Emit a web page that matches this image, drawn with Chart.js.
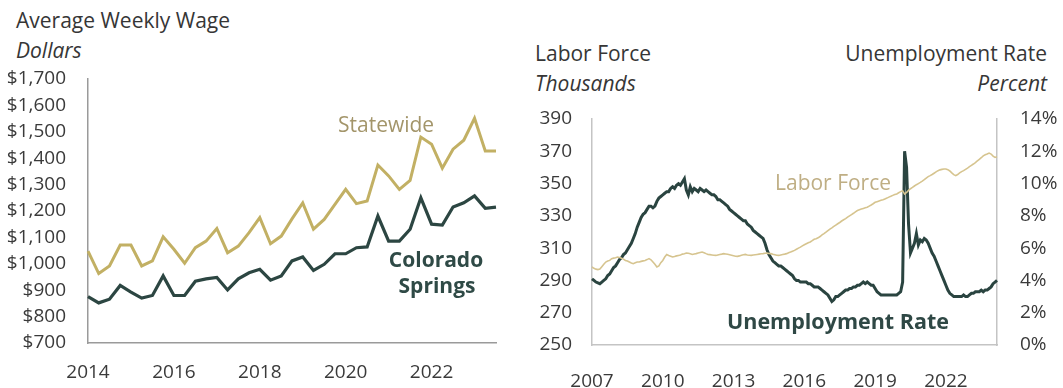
<!DOCTYPE html>
<html>
<head>
<meta charset="utf-8">
<script src="https://cdn.jsdelivr.net/npm/chart.js@4.4.1/dist/chart.umd.min.js"></script>
<style>
  html, body { margin: 0; padding: 0; background: #fff; }
  body { width: 1063px; height: 388px; position: relative; overflow: hidden;
         font-family: "Open Sans", "Noto Sans", sans-serif; color: #363636; }
  .t { position: absolute; white-space: nowrap; line-height: 1; font-size: 21px; }
  .it { font-style: italic; }
  .box { position: absolute; }
  .mid { transform: translateX(-50%); }
</style>
</head>
<body>

<!-- Left panel headings -->
<div class="t" style="left:16px;top:10px;">Average Weekly Wage</div>
<div class="t it" style="left:16px;top:40px;">Dollars</div>

<!-- Right panel headings -->
<div class="t" style="left:535px;top:43px;">Labor Force</div>
<div class="t it" style="left:535px;top:73px;">Thousands</div>
<div class="t" style="right:16px;top:43px;">Unemployment Rate</div>
<div class="t it" style="right:16px;top:73px;">Percent</div>

<div class="box" style="left:0;top:60px;width:520px;height:328px;"><canvas id="wage" width="520" height="328"></canvas></div>
<div class="box" style="left:530px;top:100px;width:533px;height:288px;"><canvas id="labor" width="533" height="288"></canvas></div>

<!-- Series labels -->
<div class="t" style="left:338px;top:114px;color:#a3956a;">Statewide</div>
<div class="t mid" style="left:436px;top:249px;font-weight:700;color:#2f4a46;">Colorado</div>
<div class="t mid" style="left:437px;top:275px;font-weight:700;color:#2f4a46;">Springs</div>
<div class="t" style="left:775px;top:172px;color:#bfae84;">Labor Force</div>
<div class="t" style="left:727px;top:310px;font-size:21.5px;font-weight:700;color:#2f4845;">Unemployment Rate</div>

<script>
// ---------- Average weekly wage, quarterly 2014 Q1 - 2023 Q3 ----------
const wageStartYear = 2014;
const wageQuarterCount = 39;
const wageYearTicks = ['2014', '2016', '2018', '2020', '2022'];
const statewideWage = [
  1048, 963, 992, 1071,
  1071, 992, 1011, 1102,
  1055, 1002, 1061, 1086,
  1134, 1042, 1067, 1118,
  1175, 1076, 1105, 1170,
  1231, 1131, 1168, 1225,
  1282, 1228, 1238, 1374,
  1333, 1282, 1316, 1480,
  1453, 1362, 1434, 1468,
  1551, 1427, 1427
];
const springsWage = [
  876, 852, 866, 918,
  893, 870, 880, 954,
  880, 880, 934, 943,
  948, 901, 943, 966,
  979, 938, 954, 1011,
  1026, 975, 998, 1038,
  1038, 1061, 1064, 1181,
  1086, 1086, 1131, 1250,
  1150, 1147, 1215, 1231,
  1257, 1210, 1215
];

// ---------- Labor force and unemployment rate, monthly Jan 2007 - Mar 2024 ----------
const laborStartYear = 2007;
const laborMonthCount = 207;
const laborYearTicks = ['2007', '2010', '2013', '2016', '2019', '2022'];
const laborForce = [
  298.3, 297.5, 297.0, 296.7, 297.0, 298.5, 300.0, 301.4, 302.0, 302.4, 303.5, 303.8, // 2007
  304.0, 304.5, 304.2, 303.8, 303.2, 302.4, 302.0, 301.4, 300.8, 300.4, 300.9, 301.4, // 2008
  301.4, 301.8, 302.1, 302.4, 302.9, 303.5, 302.8, 301.4, 300.0, 298.3, 299.0, 301.0, // 2009
  302.4, 304.5, 306.1, 305.5, 305.0, 304.5, 304.8, 305.2, 305.5, 305.8, 306.3, 306.5, // 2010
  307.0, 306.8, 306.5, 306.1, 306.4, 306.6, 307.0, 307.3, 307.6, 307.2, 306.6, 306.1, // 2011
  306.0, 305.8, 305.6, 305.5, 305.8, 306.1, 306.3, 306.6, 306.4, 306.2, 305.9, 305.6, // 2012
  305.3, 305.0, 304.9, 305.2, 305.6, 305.9, 306.1, 305.8, 305.6, 305.5, 305.7, 305.9, // 2013
  306.1, 306.3, 306.5, 306.6, 306.8, 306.9, 306.7, 306.6, 306.2, 305.9, 305.6, 305.5, // 2014
  305.8, 306.1, 306.3, 306.6, 307.2, 307.6, 308.1, 308.6, 309.3, 310.0, 310.6, 311.4, // 2015
  312.1, 312.7, 313.3, 313.8, 314.6, 315.5, 315.8, 316.4, 317.2, 318.2, 319.0, 319.9, // 2016
  320.9, 321.8, 322.6, 323.5, 324.3, 325.1, 325.9, 326.8, 327.6, 328.3, 329.2, 330.0, // 2017
  330.8, 331.6, 332.5, 333.3, 333.8, 334.2, 334.6, 335.0, 335.3, 336.0, 336.7, 337.5, // 2018
  338.4, 338.8, 339.2, 339.6, 340.0, 340.5, 341.0, 341.6, 342.1, 342.7, 343.2, 343.6, // 2019
  344.3, 345.0, 345.6, 343.5, 344.5, 345.8, 346.8, 347.6, 348.5, 349.3, 350.0, 350.7, // 2020
  351.5, 352.4, 353.4, 354.3, 354.9, 355.6, 356.4, 357.2, 358.0, 358.5, 358.8, 359.0, // 2021
  359.0, 358.6, 357.8, 356.6, 355.5, 354.9, 355.6, 356.6, 357.4, 358.0, 358.8, 359.6, // 2022
  360.5, 361.3, 362.1, 363.0, 364.0, 365.0, 366.0, 367.2, 367.8, 368.3, 368.9, 368.3, // 2023
  367.0, 366.2, 366.6                                                                  // 2024
];
const unemploymentRate = [
  4.1, 4.0, 3.9, 3.85, 3.8, 3.9, 4.0, 4.1, 4.3, 4.4, 4.6, 4.8,   // 2007
  4.9, 5.1, 5.3, 5.4, 5.6, 5.7, 5.9, 6.1, 6.3, 6.6, 6.9, 7.3,    // 2008
  7.6, 7.9, 8.1, 8.2, 8.4, 8.6, 8.6, 8.5, 8.6, 8.9, 9.1, 9.2,    // 2009
  9.3, 9.4, 9.5, 9.5, 9.7, 9.8, 9.7, 9.9, 10.0, 9.9, 10.1, 10.3, // 2010
  9.6, 9.3, 9.8, 9.5, 9.7, 9.6, 9.5, 9.7, 9.6, 9.5, 9.6, 9.5,    // 2011
  9.4, 9.3, 9.3, 9.2, 9.0, 9.0, 8.9, 8.8, 8.7, 8.6, 8.4, 8.3,    // 2012
  8.2, 8.1, 8.0, 7.9, 7.8, 7.7, 7.7, 7.5, 7.4, 7.3, 7.1, 7.0,    // 2013
  6.9, 6.8, 6.7, 6.6, 6.3, 5.9, 5.6, 5.4, 5.2, 5.1, 5.0, 4.9,    // 2014
  4.9, 4.8, 4.7, 4.6, 4.5, 4.4, 4.3, 4.1, 4.0, 4.0, 3.9, 3.9,    // 2015
  3.9, 3.9, 3.8, 3.8, 3.7, 3.6, 3.6, 3.6, 3.5, 3.4, 3.3, 3.2,    // 2016
  3.1, 2.9, 2.7, 2.8, 3.0, 3.0, 3.1, 3.2, 3.3, 3.4, 3.4, 3.5,    // 2017
  3.5, 3.6, 3.6, 3.7, 3.7, 3.8, 3.9, 3.8, 3.9, 3.8, 3.7, 3.7,    // 2018
  3.5, 3.3, 3.2, 3.1, 3.1, 3.1, 3.1, 3.1, 3.1, 3.1, 3.1, 3.1,    // 2019
  3.2, 3.3, 3.9, 12.0, 11.0, 7.5, 5.7, 6.0, 6.3, 6.9, 6.2, 6.5,  // 2020
  6.4, 6.6, 6.5, 6.3, 6.0, 5.7, 5.5, 5.2, 4.9, 4.6, 4.3, 4.0,    // 2021
  3.7, 3.4, 3.2, 3.1, 3.0, 3.0, 3.0, 3.0, 3.0, 3.1, 3.0, 3.0,    // 2022
  3.1, 3.2, 3.2, 3.3, 3.3, 3.3, 3.4, 3.3, 3.4, 3.4, 3.5, 3.6,    // 2023
  3.8, 3.9, 4.0                                                   // 2024
];

// Period labels for the category axes
const quarterLabels = [];
for (let i = 0; i < wageQuarterCount; i++) {
  quarterLabels.push((wageStartYear + Math.floor(i / 4)) + ' Q' + (i % 4 + 1));
}
const monthLabels = [];
for (let i = 0; i < laborMonthCount; i++) {
  const m = i % 12 + 1;
  monthLabels.push((laborStartYear + Math.floor(i / 12)) + '-' + (m < 10 ? '0' + m : m));
}

const FONT = '"Open Sans", "Noto Sans", sans-serif';
const TICK_COLOR = '#3a3a3a';
const TICK_SIZE = 19;
Chart.defaults.font.family = FONT;
Chart.defaults.color = TICK_COLOR;

// keep the plot edge exactly where the layout padding puts it
function vAxisFit(width) {
  return function (scale) {
    scale.width = width;
    scale.paddingTop = 0;
    scale.paddingBottom = 0;
  };
}

// ---------- Wage chart ----------
new Chart(document.getElementById('wage'), {
  type: 'line',
  data: {
    labels: quarterLabels,
    datasets: [
      { label: 'Statewide', data: statewideWage, borderColor: '#c2b064', borderWidth: 3,
        pointRadius: 0, tension: 0, fill: false },
      { label: 'Colorado Springs', data: springsWage, borderColor: '#2c4642', borderWidth: 3.2,
        pointRadius: 0, tension: 0, fill: false }
    ]
  },
  options: {
    responsive: false,
    animation: false,
    devicePixelRatio: 1,
    layout: { padding: { top: 19, right: 24, left: 0, bottom: 0 } },
    plugins: { legend: { display: false }, tooltip: { enabled: false } },
    scales: {
      x: {
        type: 'category',
        offset: false,
        grid: { display: false, drawTicks: false },
        border: { display: true, color: '#9a9a9a', width: 1.5 },
        ticks: {
          autoSkip: false, maxRotation: 0, padding: 18,
          font: { size: TICK_SIZE }, color: TICK_COLOR,
          callback: function (value, index) {
            const lab = quarterLabels[index];
            const yr = lab.slice(0, 4);
            return (lab.endsWith('Q1') && wageYearTicks.includes(yr)) ? yr : '';
          }
        },
        afterFit: function (scale) { scale.height = 45; }
      },
      y: {
        min: 700, max: 1700,
        grid: { display: false, drawTicks: false },
        border: { display: true, color: '#9a9a9a', width: 1.5 },
        ticks: {
          stepSize: 100, padding: 22,
          font: { size: TICK_SIZE }, color: TICK_COLOR,
          callback: function (v) { return '$' + v.toLocaleString('en-US'); }
        },
        afterFit: vAxisFit(88)
      }
    }
  }
});

// ---------- Labor force / unemployment chart ----------
new Chart(document.getElementById('labor'), {
  type: 'line',
  data: {
    labels: monthLabels,
    datasets: [
      { label: 'Labor Force', data: laborForce, yAxisID: 'yLabor', borderColor: '#d6c48f',
        borderWidth: 1.6, pointRadius: 0, tension: 0, fill: false },
      { label: 'Unemployment Rate', data: unemploymentRate, yAxisID: 'yRate', borderColor: '#2a4440',
        borderWidth: 3, pointRadius: 0, tension: 0, fill: false }
    ]
  },
  options: {
    responsive: false,
    animation: false,
    devicePixelRatio: 1,
    layout: { padding: { top: 19, right: 0, left: 0, bottom: 0 } },
    plugins: { legend: { display: false }, tooltip: { enabled: false } },
    scales: {
      x: {
        type: 'category',
        offset: false,
        grid: { display: false, drawTicks: false },
        border: { display: true, color: '#c4c4c4', width: 1.5 },
        ticks: {
          autoSkip: false, maxRotation: 0, padding: 25,
          font: { size: TICK_SIZE }, color: TICK_COLOR,
          callback: function (value, index) {
            const lab = monthLabels[index];
            const yr = lab.slice(0, 4);
            return (lab.endsWith('-01') && laborYearTicks.includes(yr)) ? yr : '';
          }
        },
        afterFit: function (scale) { scale.height = 43; }
      },
      yLabor: {
        position: 'left',
        min: 250, max: 390,
        grid: { display: false, drawTicks: false },
        border: { display: true, color: '#c4c4c4', width: 1.5 },
        ticks: { stepSize: 20, padding: 20, font: { size: TICK_SIZE }, color: TICK_COLOR },
        afterFit: vAxisFit(62)
      },
      yRate: {
        position: 'right',
        min: 0, max: 14,
        grid: { display: false, drawTicks: false },
        border: { display: true, color: '#c4c4c4', width: 1.5 },
        ticks: {
          stepSize: 2, padding: 23, font: { size: TICK_SIZE }, color: TICK_COLOR,
          callback: function (v) { return v + '%'; }
        },
        afterFit: vAxisFit(66)
      }
    }
  }
});
</script>
</body>
</html>
